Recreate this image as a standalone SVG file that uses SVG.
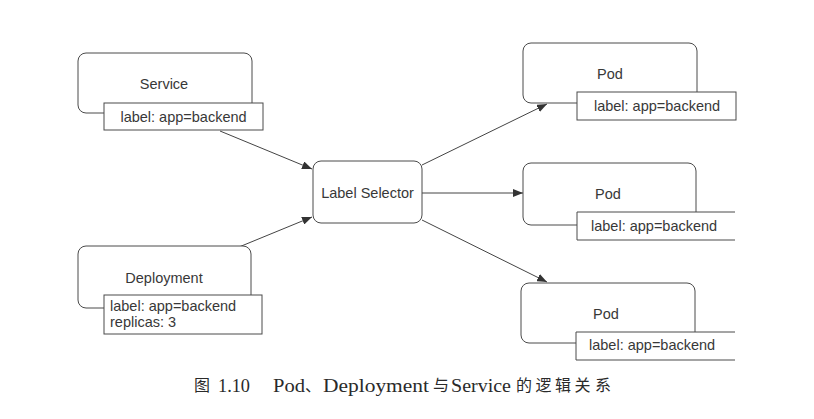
<svg xmlns="http://www.w3.org/2000/svg" width="814" height="419" viewBox="0 0 814 419">
<defs>
<style>
.box{fill:#fff;stroke:#4a4a4a;stroke-width:1}
.lbl{fill:#fff;stroke:#4a4a4a;stroke-width:1}
.t{font-family:"Liberation Sans",Arial,sans-serif;font-size:14.5px;fill:#383838}
.c{text-anchor:middle}
.conn{stroke:#444;stroke-width:1;fill:none;marker-end:url(#ah)}
.cap{font-family:"Liberation Serif","Noto Sans CJK SC",serif;font-size:18.5px;fill:#2a2a2a}
.capz{font-family:"Noto Sans CJK SC","Liberation Serif",serif;font-size:16px;fill:#2a2a2a}
</style>
<marker id="ah" viewBox="0 0 10 8" refX="10" refY="4" markerWidth="10" markerHeight="8" markerUnits="userSpaceOnUse" orient="auto">
<path d="M0,0 L10,4 L0,8 Z" fill="#333"/>
</marker>
</defs>
<rect width="814" height="419" fill="#fff"/>

<g id="connectors">
<line class="conn" x1="220" y1="131" x2="312" y2="169"/>
<line class="conn" x1="239" y1="247" x2="312" y2="217"/>
<line class="conn" x1="422" y1="165" x2="547" y2="104"/>
<line class="conn" x1="422" y1="193" x2="523" y2="193"/>
<line class="conn" x1="422" y1="220" x2="547" y2="282"/>
</g>

<g id="service">
<rect class="box" x="78" y="53" width="174" height="60" rx="8"/>
<rect class="lbl" x="104" y="103" width="159" height="27"/>
<text class="t c" x="164" y="89">Service</text>
<text class="t c" x="183.5" y="122">label: app=backend</text>
</g>

<g id="deployment">
<rect class="box" x="78" y="246" width="173" height="62" rx="8"/>
<rect class="lbl" x="104" y="295" width="158" height="39"/>
<text class="t c" x="164" y="283">Deployment</text>
<text class="t" x="110" y="311">label: app=backend</text>
<text class="t" x="110" y="327">replicas: 3</text>
</g>

<g id="label-selector">
<rect class="box" x="313" y="161" width="109" height="62" rx="8"/>
<text class="t c" x="367.5" y="198">Label Selector</text>
</g>

<g id="pod1">
<rect class="box" x="523" y="43" width="174" height="60" rx="8"/>
<rect class="lbl" x="577" y="92" width="159" height="28"/>
<text class="t c" x="610" y="79">Pod</text>
<text class="t c" x="657" y="111">label: app=backend</text>
</g>

<g id="pod2">
<rect class="box" x="523" y="163" width="173" height="62" rx="8"/>
<rect x="577" y="212" width="158" height="28" fill="#fff"/>
<path d="M735,212 H577 V240 H735" fill="none" stroke="#4a4a4a" stroke-width="1"/>
<text class="t c" x="608" y="199">Pod</text>
<text class="t" x="591" y="231">label: app=backend</text>
</g>

<g id="pod3">
<rect class="box" x="521" y="283" width="174" height="60" rx="8"/>
<rect x="576" y="332" width="159" height="28" fill="#fff"/>
<path d="M735,332 H576 V360 H735" fill="none" stroke="#4a4a4a" stroke-width="1"/>
<text class="t c" x="606" y="319">Pod</text>
<text class="t" x="589" y="350">label: app=backend</text>
</g>

<g id="caption">
<text class="capz" x="194" y="391">图</text>
<text class="cap" x="218" y="392" textLength="32" lengthAdjust="spacingAndGlyphs">1.10</text>
<text class="cap" x="273" y="392" textLength="32" lengthAdjust="spacingAndGlyphs">Pod</text>
<text class="capz" x="305" y="391">、</text>
<text class="cap" x="323" y="392" textLength="106" lengthAdjust="spacingAndGlyphs">Deployment</text>
<text class="capz" x="433" y="391">与</text>
<text class="cap" x="451" y="392" textLength="60" lengthAdjust="spacingAndGlyphs">Service</text>
<text class="capz" x="516 535.5 555 574.5 595" y="391">的逻辑关系</text>
</g>
</svg>
